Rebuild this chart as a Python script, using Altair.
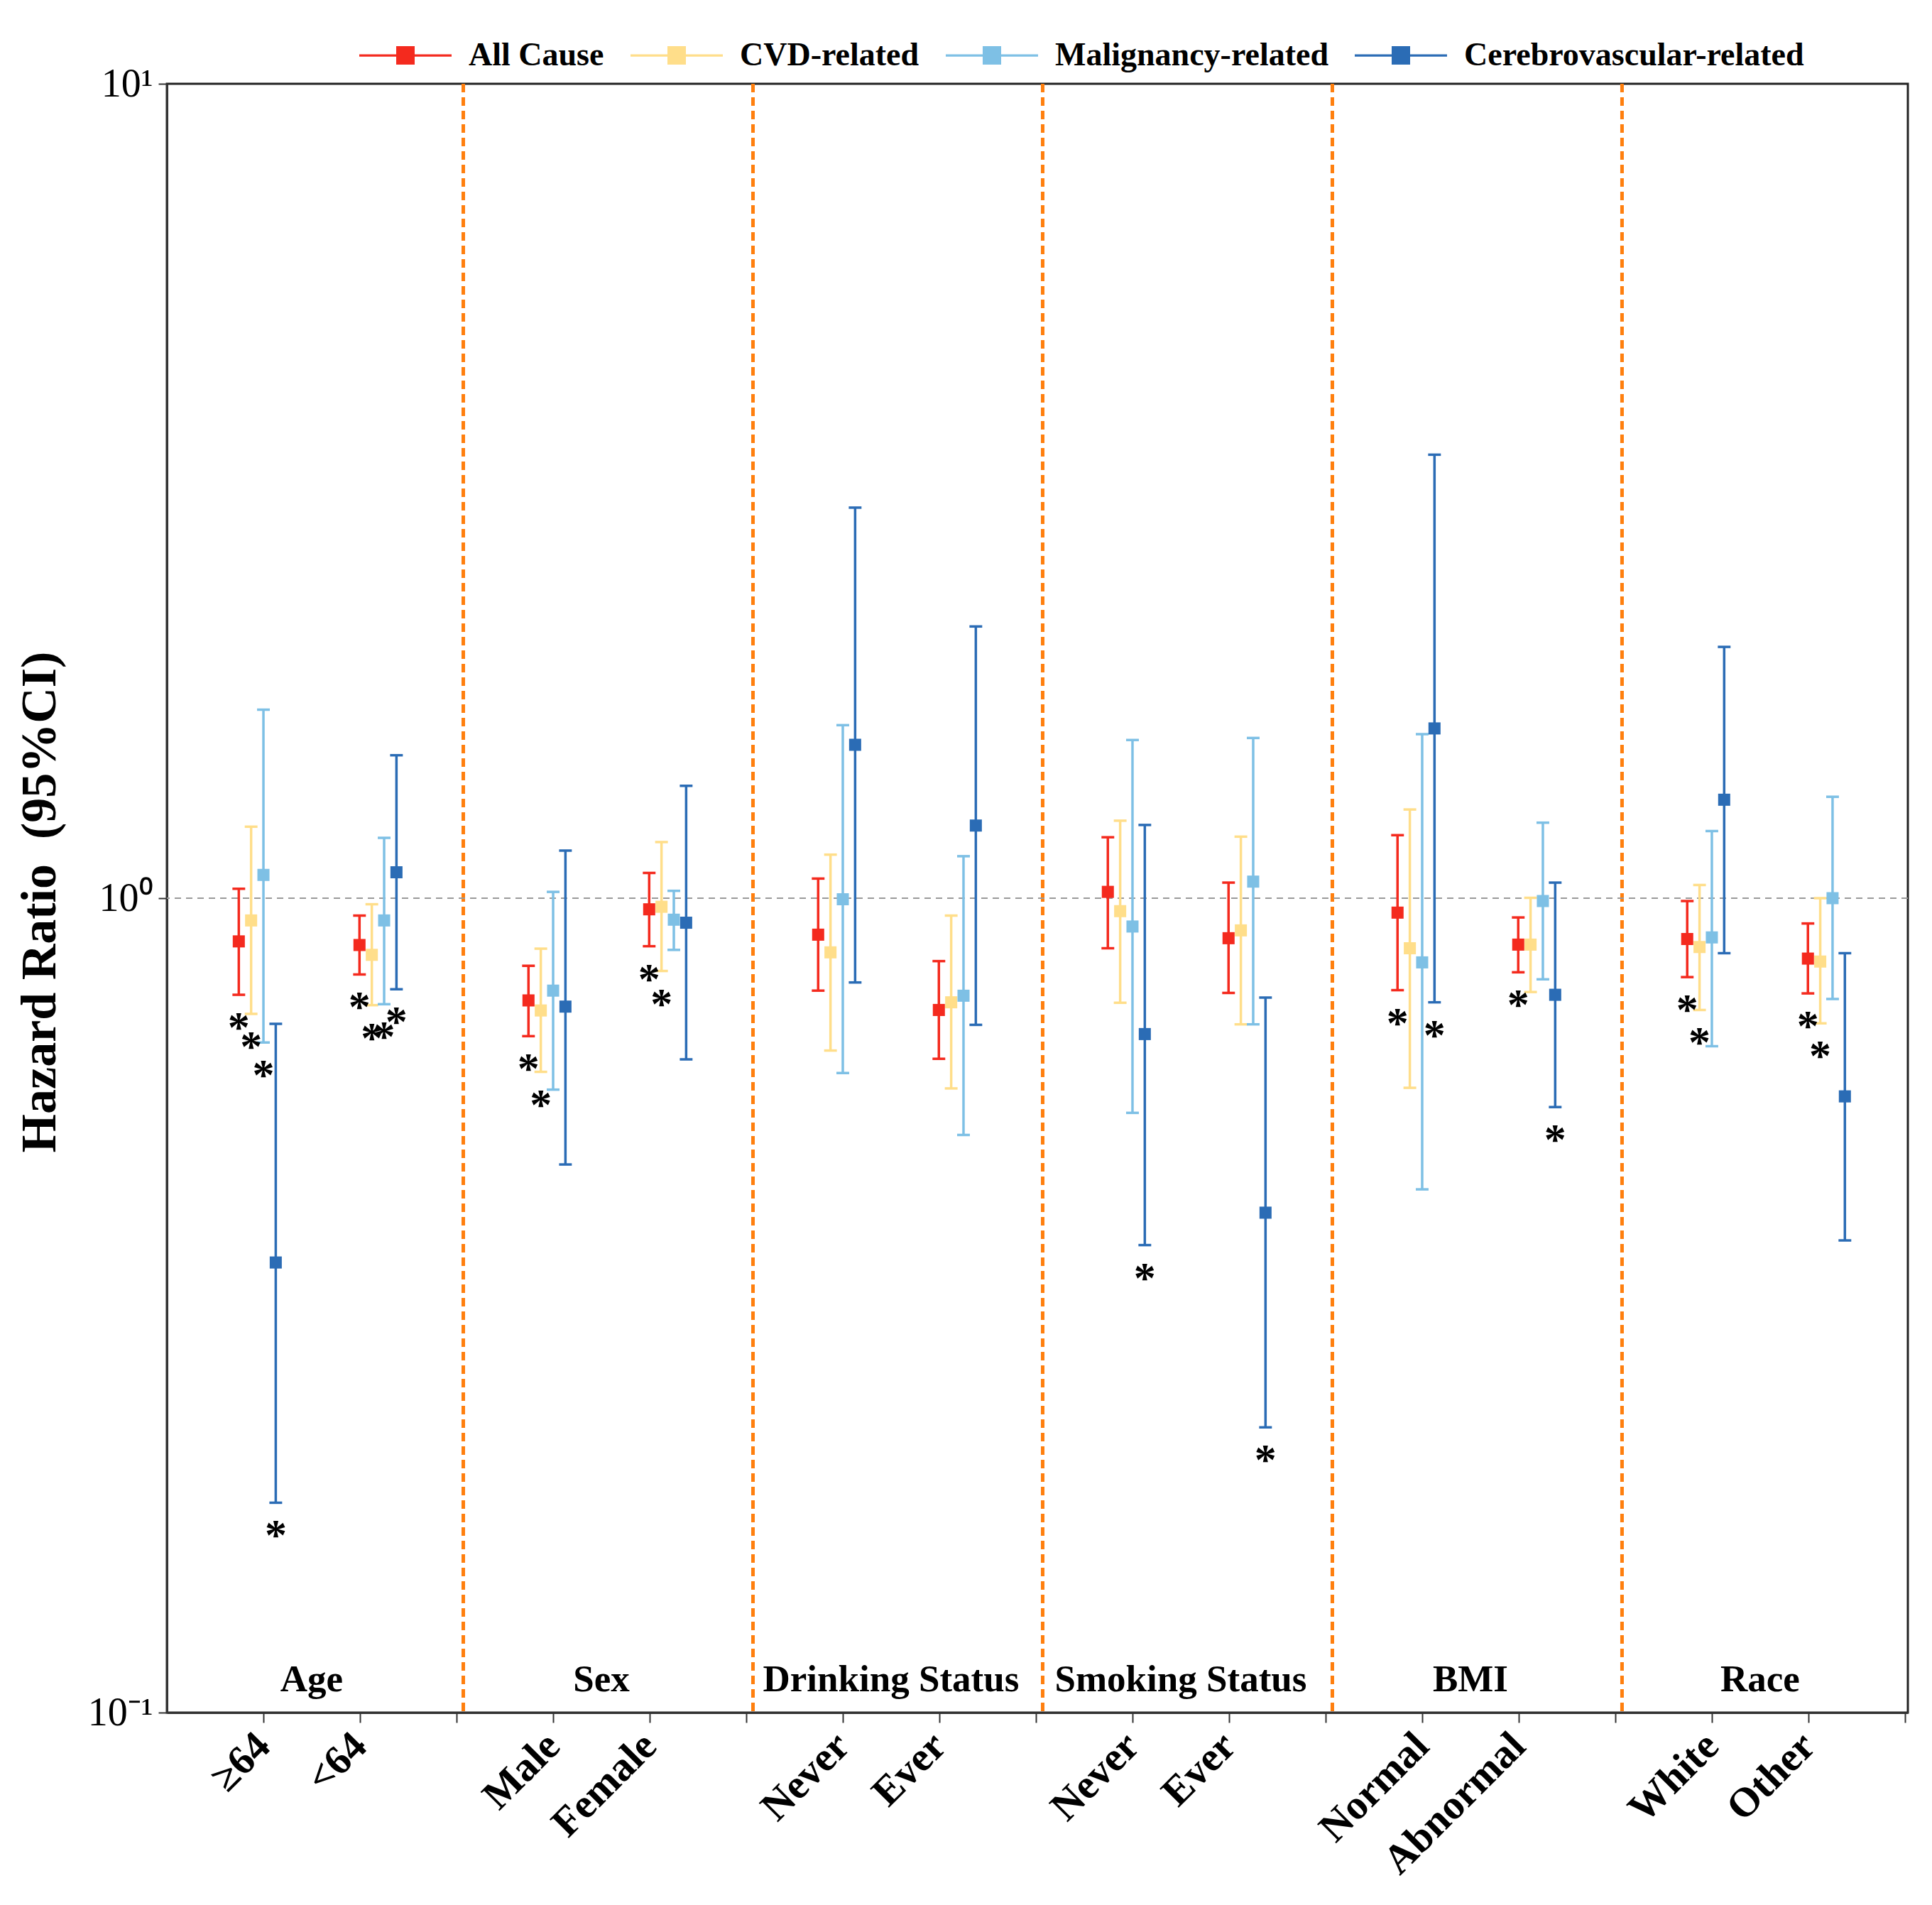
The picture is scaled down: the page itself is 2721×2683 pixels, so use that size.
import altair as alt
import pandas as pd

groups = ["Age", "Sex", "Drinking Status", "Smoking Status", "BMI", "Race"]
subgroups = ["≥64", "<64", "Male", "Female", "Never", "Ever",
             "Never", "Ever", "Normal", "Abnormal", "White", "Other"]
series = ["All Cause", "CVD-related", "Malignancy-related", "Cerebrovascular-related"]
colors = ["#F42A1E", "#FFDE8A", "#7EC0E5", "#2B6CB5"]

# hazard ratios: one row per subgroup, one column per series
hr = [
    [0.885, 0.939, 1.068, 0.357],
    [0.876, 0.852, 0.939, 1.076],
    [0.749, 0.728, 0.770, 0.736],
    [0.969, 0.976, 0.941, 0.933],
    [0.902, 0.858, 0.997, 1.543],
    [0.729, 0.745, 0.759, 1.228],
    [1.018, 0.964, 0.923, 0.681],
    [0.893, 0.913, 1.048, 0.411],
    [0.960, 0.868, 0.834, 1.616],
    [0.877, 0.877, 0.992, 0.761],
    [0.891, 0.871, 0.895, 1.321],
    [0.843, 0.836, 1.000, 0.571],
]
lo = [
    [0.761, 0.721, 0.665, 0.181],
    [0.806, 0.739, 0.741, 0.773],
    [0.677, 0.612, 0.582, 0.471],
    [0.873, 0.814, 0.864, 0.634],
    [0.770, 0.650, 0.610, 0.788],
    [0.635, 0.584, 0.512, 0.699],
    [0.868, 0.744, 0.545, 0.375],
    [0.765, 0.700, 0.700, 0.224],
    [0.771, 0.585, 0.439, 0.745],
    [0.811, 0.767, 0.795, 0.554],
    [0.800, 0.729, 0.658, 0.856],
    [0.764, 0.702, 0.752, 0.380],
]
hi = [
    [1.027, 1.224, 1.704, 0.701],
    [0.952, 0.983, 1.186, 1.498],
    [0.826, 0.867, 1.018, 1.144],
    [1.074, 1.172, 1.021, 1.374],
    [1.057, 1.131, 1.631, 3.017],
    [0.837, 0.952, 1.126, 2.156],
    [1.188, 1.245, 1.564, 1.230],
    [1.045, 1.190, 1.573, 0.755],
    [1.195, 1.285, 1.590, 3.504],
    [0.947, 1.001, 1.238, 1.045],
    [0.992, 1.038, 1.209, 2.035],
    [0.931, 1.000, 1.332, 0.856],
]
sig = [
    [1, 1, 1, 1],
    [1, 1, 1, 1],
    [1, 1, 0, 0],
    [1, 1, 0, 0],
    [0, 0, 0, 0],
    [0, 0, 0, 0],
    [0, 0, 0, 1],
    [0, 0, 0, 1],
    [1, 0, 0, 1],
    [1, 0, 0, 1],
    [1, 1, 0, 0],
    [1, 1, 0, 0],
]

FONT = "Liberation Serif"
W, H = 2452, 2294
CAP = 0.066  # half cap width in x-units

rows = []
for i, sub in enumerate(subgroups):
    g, j = divmod(i, 2)
    for k, s in enumerate(series):
        xv = 3 * g + 0.745 + 1.25 * j + 0.1276 * k
        rows.append({
            "x": xv, "xl": xv - CAP, "xr": xv + CAP,
            "hr": hr[i][k], "lo": lo[i][k], "hi": hi[i][k],
            "sig": sig[i][k], "series": s, "c": colors[k], "sub": sub,
        })
df = pd.DataFrame(rows)
df_div = pd.DataFrame({"x": [3 * g + 3.07 for g in range(5)]})
df_ref = pd.DataFrame({"ref": [1.0]})
df_grp = pd.DataFrame({"x": [3 * g + 1.5 for g in range(6)], "label": groups, "yv": [0.1] * 6})

label_expr = ""
for i, sub in enumerate(subgroups):
    g, j = divmod(i, 2)
    label_expr += f"datum.value == {3 * g + 1 + j} ? '{sub}' : "
label_expr += "''"

xs = alt.Scale(domain=[0, 18.03], nice=False, zero=False)
ys = alt.Scale(type="log", domain=[0.1, 10], nice=False)

xaxis = alt.Axis(values=list(range(1, 19)), labelExpr=label_expr, title=None, grid=False,
                 labelAngle=315, labelAlign="right", labelBaseline="middle",
                 labelFont=FONT, labelFontSize=58, labelFontWeight="bold", labelColor="black",
                 labelPadding=24, labelOverlap=False, labelFlush=False, labelBound=False,
                 labelLimit=0,
                 tickSize=14, tickWidth=2, tickColor="#333", domainColor="#333", domainWidth=3)
yaxis = alt.Axis(values=[0.1, 1, 10],
                 labelExpr="datum.value >= 9 ? '10¹' : datum.value >= 0.9 ? '10⁰' : '10⁻¹'",
                 grid=False, tickSize=12, tickWidth=2, tickColor="#333",
                 domainColor="#333", domainWidth=3,
                 labelFont=FONT, labelFontSize=56, labelColor="black", labelPadding=8,
                 title="Hazard Ratio\u00a0\u00a0(95%CI)", titleFont=FONT, titleFontSize=70,
                 titleFontWeight="bold", titleColor="black", titleX=-179, titleY=1152,
                 titleAngle=270, titleAlign="center", titleBaseline="middle")

X = alt.X("x:Q", scale=xs, axis=xaxis)

dividers = alt.Chart(df_div).mark_rule(color="#FF7F0E", strokeWidth=5, strokeDash=[12, 7]).encode(x=X)
ref = alt.Chart(df_ref).mark_rule(color="#9A9A9A", strokeWidth=2, strokeDash=[9, 7]).encode(
    y=alt.Y("ref:Q", scale=ys, axis=yaxis))

stroke = alt.Stroke("c:N", scale=None)

bars = alt.Chart(df).mark_rule(strokeWidth=3.5).encode(
    x=X, y=alt.Y("lo:Q", scale=ys, axis=yaxis), y2="hi:Q", stroke=stroke)
cap_lo = alt.Chart(df).mark_rule(strokeWidth=3.5).encode(
    x=alt.X("xl:Q", scale=xs, axis=xaxis), x2="xr:Q",
    y=alt.Y("lo:Q", scale=ys, axis=yaxis), stroke=stroke)
cap_hi = alt.Chart(df).mark_rule(strokeWidth=3.5).encode(
    x=alt.X("xl:Q", scale=xs, axis=xaxis), x2="xr:Q",
    y=alt.Y("hi:Q", scale=ys, axis=yaxis), stroke=stroke)

legend = alt.Legend(title=None, orient="none", legendX=271, legendY=-105, direction="horizontal",
                    columns=4, labelFont=FONT, labelFontSize=46, labelFontWeight="bold",
                    labelColor="black", labelOffset=24, columnPadding=37, padding=0,
                    labelLimit=0,
                    symbolType="M-1,-0.025H1V0.025H-1Z M-0.2,-0.2H0.2V0.2H-0.2Z",
                    symbolSize=16900, symbolStrokeWidth=0, symbolOpacity=1)
points = alt.Chart(df).mark_point(shape="square", filled=True, size=290, opacity=1, strokeWidth=0).encode(
    x=X, y=alt.Y("hr:Q", scale=ys, axis=yaxis),
    fill=alt.Fill("series:N", scale=alt.Scale(domain=series, range=colors), legend=legend))

stars = alt.Chart(df).transform_filter("datum.sig == 1").mark_text(
    text="*", font=FONT, fontSize=62, fontWeight="bold", color="black",
    baseline="alphabetic", align="center", dy=66).encode(
    x=X, y=alt.Y("lo:Q", scale=ys, axis=yaxis))

glabels = alt.Chart(df_grp).mark_text(
    font=FONT, fontSize=53, fontWeight="bold", color="black",
    baseline="alphabetic", align="center", dy=-30).encode(
    x=X, y=alt.Y("yv:Q", scale=ys, axis=yaxis), text="label:N")

chart = alt.layer(dividers, ref, bars, cap_lo, cap_hi, points, stars, glabels).properties(
    width=W, height=H,
    autosize=alt.AutoSizeParams(type="none"),
    padding={"left": 227, "top": 110, "right": 10, "bottom": 250},
    background="white",
).configure_view(stroke="#222", strokeWidth=3)

chart.save("out.html", embed_options={"renderer": "svg", "actions": False})
